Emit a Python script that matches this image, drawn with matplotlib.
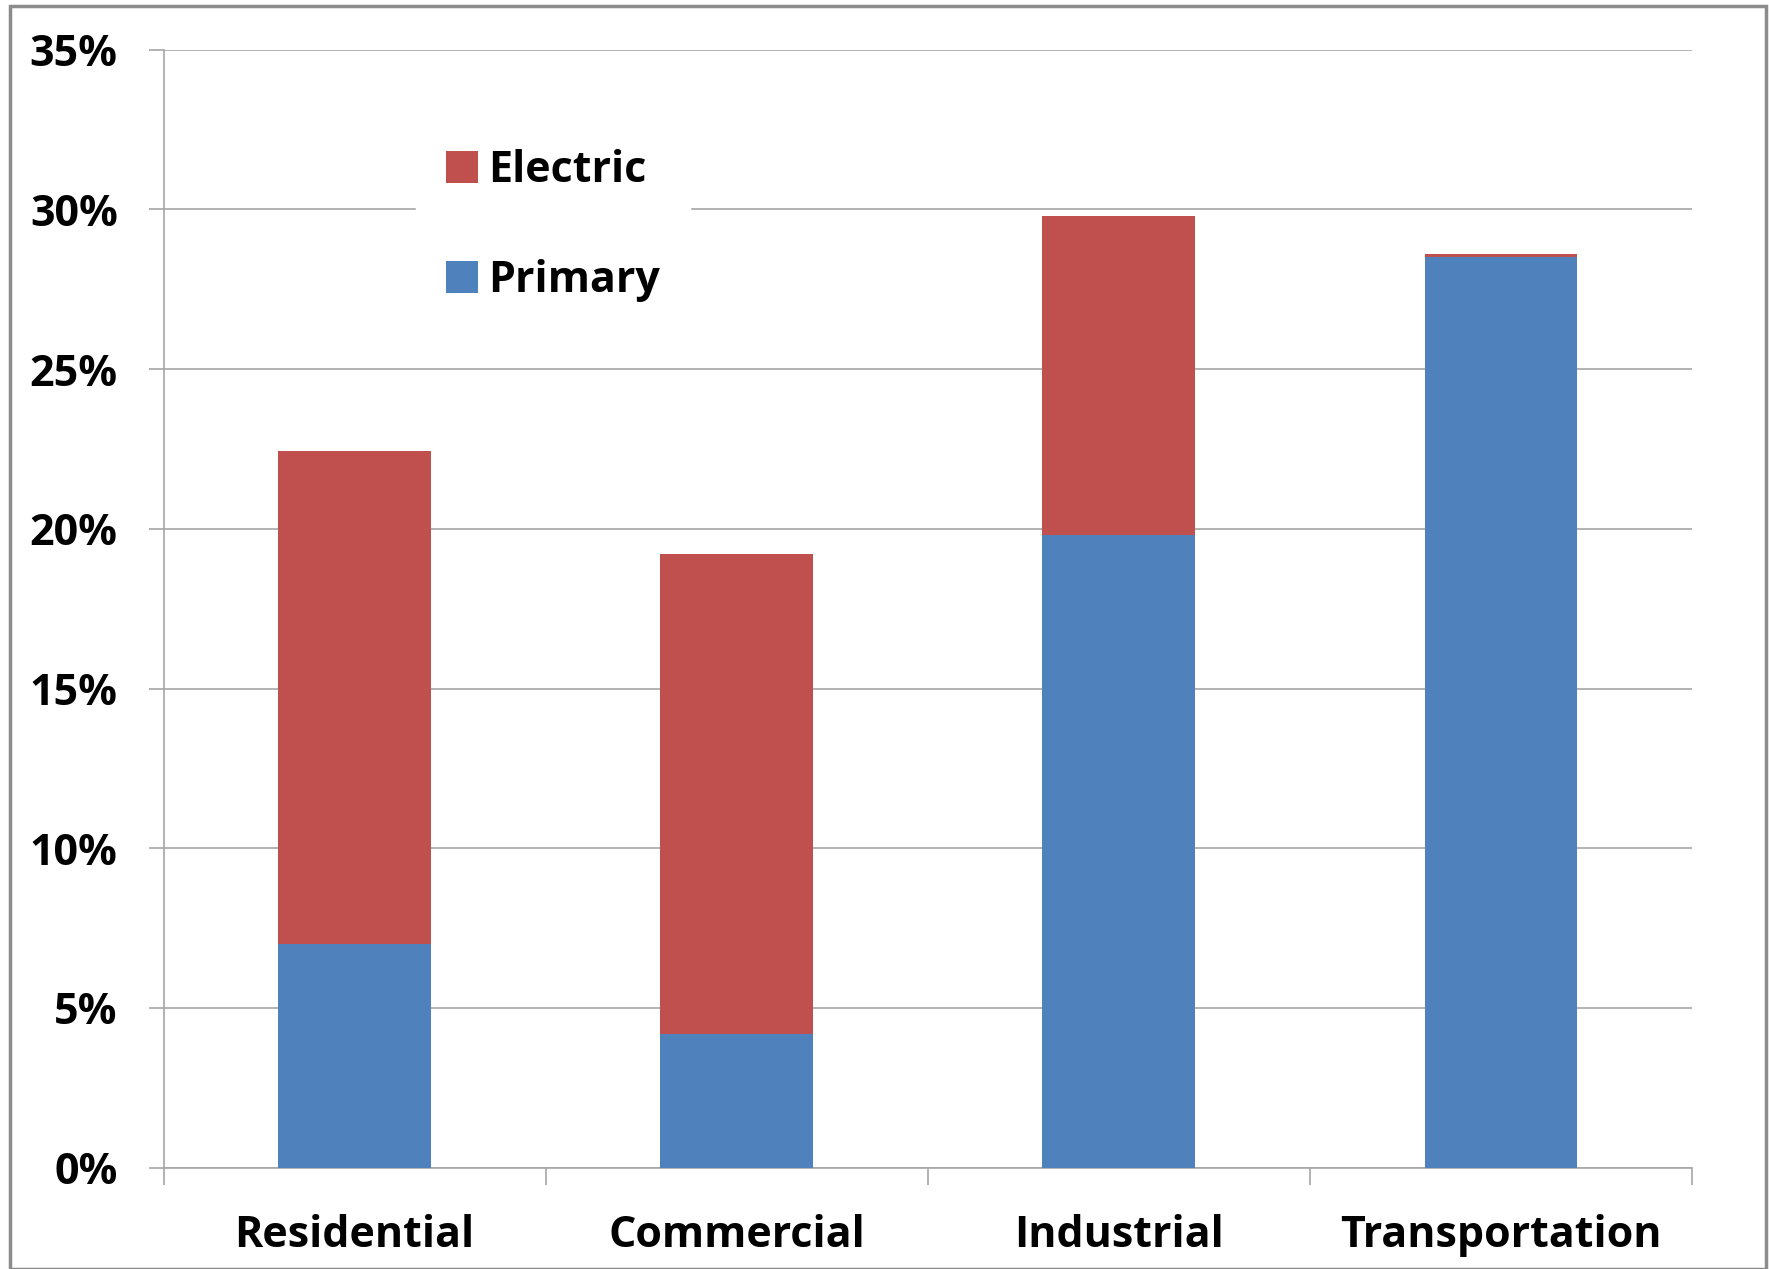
import matplotlib
matplotlib.use("Agg")
import matplotlib.pyplot as plt
from matplotlib.patches import Rectangle
from matplotlib.ticker import FuncFormatter
import numpy as np

# data (percent of total energy use by sector)
sectors = ["Residential", "Commercial", "Industrial", "Transportation"]
primary = [7.0, 4.2, 19.8, 28.5]
electric = [15.45, 15.0, 10.0, 0.1]

plt.rcParams['font.family'] = ['Open Sans', 'DejaVu Sans']
plt.rcParams['font.weight'] = 'bold'

fig = plt.figure(figsize=(17.69, 12.69), dpi=100)
ax = fig.add_axes([163.6 / 1769, 1 - 1167.7 / 1269, (1692 - 163.6) / 1769, (1167.7 - 49.6) / 1269])

x = np.arange(len(sectors))
blue = "#4F81BD"
red = "#C0504D"
ax.bar(x, primary, width=0.40, color=blue, label="Primary", zorder=3)
ax.bar(x, electric, width=0.40, bottom=primary, color=red, label="Electric", zorder=3)

ax.set_xlim(-0.5, len(sectors) - 0.5)
ax.set_ylim(0, 35)
ax.set_yticks(np.arange(0, 36, 5))
ax.yaxis.set_major_formatter(FuncFormatter(lambda v, p: f"{v:.0f}%"))
ax.grid(axis="y", color="#A6A6A6", linewidth=1.2, zorder=0)

# x ticks at category boundaries, labels centred
ax.set_xticks(np.arange(-0.5, len(sectors), 1.0))
ax.set_xticklabels([])
ax.set_xticks(x, minor=True)
ax.set_xticklabels(sectors, minor=True, fontsize=31, fontweight="bold")
ax.tick_params(axis="x", which="major", length=12, width=1.2, color="#A6A6A6")
ax.tick_params(axis="x", which="minor", length=0, pad=33)
ax.tick_params(axis="y", length=11, width=1.2, color="#A6A6A6", labelsize=31, pad=22)

for side in ["top", "right"]:
    ax.spines[side].set_visible(False)
for side in ["left", "bottom"]:
    ax.spines[side].set_color("#A6A6A6")
    ax.spines[side].set_linewidth(1.2)

handles, labels = ax.get_legend_handles_labels()
leg = ax.legend(handles[::-1], labels[::-1], loc="upper left", bbox_to_anchor=(0.165, 0.938),
                frameon=True, framealpha=1, edgecolor="white",
                handlelength=0.75, handleheight=0.75, handletextpad=0.22, labelspacing=1.55,
                borderpad=0.7, borderaxespad=0, prop={"weight": "bold", "size": 31})
leg.set_zorder(5)

# slide border
fig.patches.append(Rectangle((10 / 1769, 0), (1766 - 10) / 1769, 1 - 6 / 1269,
                             transform=fig.transFigure, fill=False,
                             edgecolor="#8C8C8C", linewidth=2.5))

fig.savefig("out.png", dpi=100)
